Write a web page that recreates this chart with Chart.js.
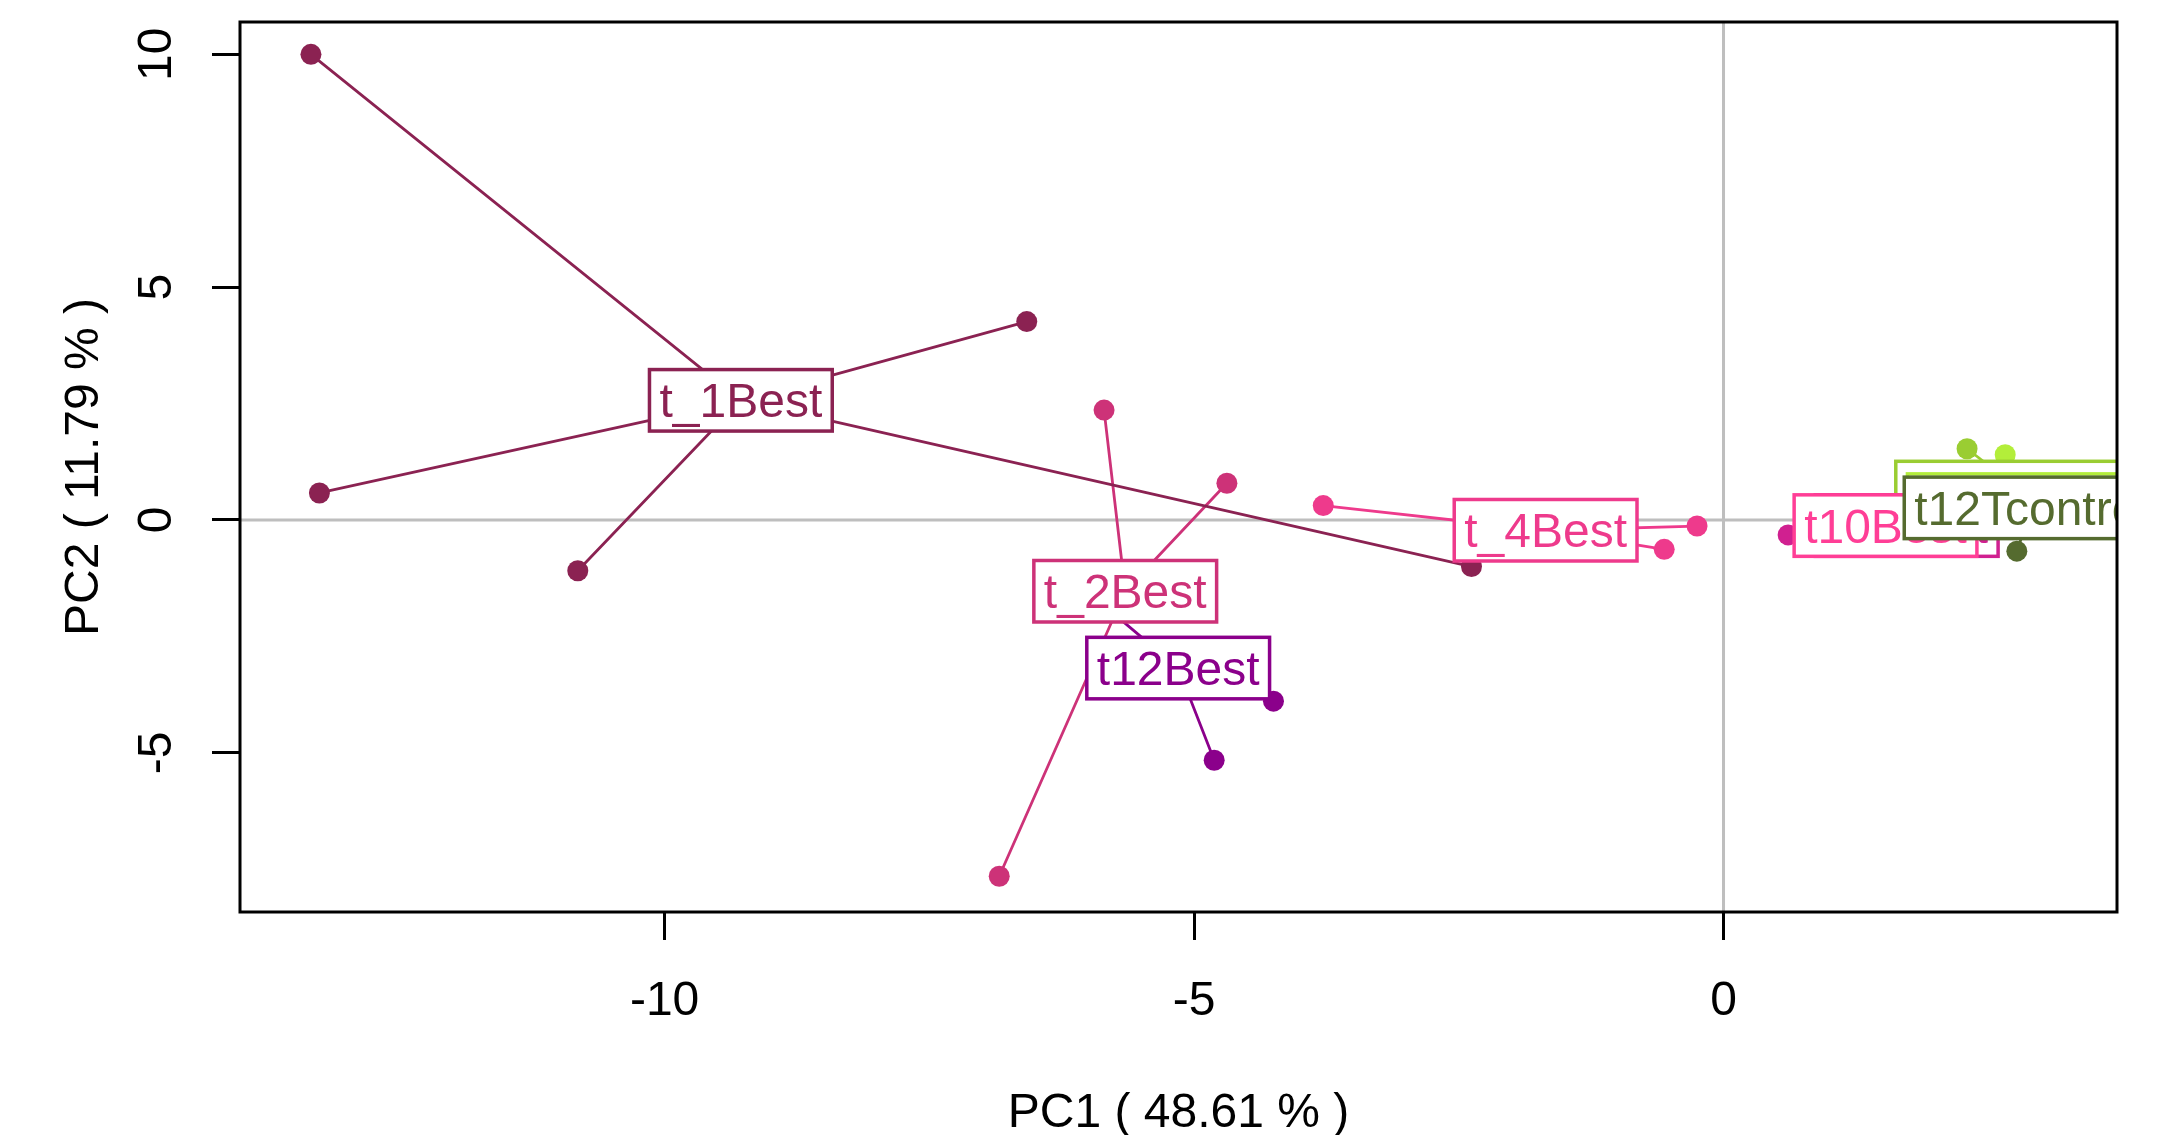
<!DOCTYPE html>
<html>
<head>
<meta charset="utf-8">
<title>PCA - PC1 / PC2</title>
<script src="https://cdn.jsdelivr.net/npm/chart.js@4.4.1/dist/chart.umd.min.js"></script>
<style>
  html, body { margin: 0; padding: 0; background: #fff; overflow: hidden; }
  canvas { display: block; }
</style>
</head>
<body>
<canvas id="pcaPlot" width="2166" height="1135"></canvas>
<script>
// groups, in the order the labels are stacked (last one ends up on top)
const groupNames = ['t_1Best', 't_2Best', 't_4Best', 't_2Tcontrol', 't_4Tcontrol', 't_8Best', 't10Best', 't12Best', 't12Tcontrol'];
const groupColors = ['#8B2252', '#CD3278', '#EE3A8C', '#9ACD32', '#B3EE3A', '#D02090', '#FF3E96', '#8B008B', '#556B2F'];

// group centroids (where the label boxes sit)
const centroidX = [-9.28, -5.65, -1.68, 2.83, 2.94, 1.73, 1.53, -5.15, 2.91];
const centroidY = [2.57, -1.53, -0.22, 0.60, 0.33, -0.12, -0.12, -3.18, 0.26];

// samples of each group
const pointX = [
  [-13.34, -6.58, -13.26, -10.82, -2.38],
  [-5.85, -4.69, -6.84],
  [-3.78, -0.25, -0.56],
  [2.30],
  [2.66],
  [0.61],
  [],
  [-4.25, -4.81, -5.91],
  [2.77]
];
const pointY = [
  [10.0, 4.26, 0.58, -1.09, -1.00],
  [2.36, 0.79, -7.65],
  [0.31, -0.13, -0.63],
  [1.53],
  [1.40],
  [-0.32],
  [],
  [-3.89, -5.16, -1.72],
  [-0.67]
];

const xTicks = [-10, -5, 0];
const yTicks = [-5, 0, 5, 10];
const xLimits = [-14.01, 3.716];
const yLimits = [-8.418, 10.694];
const xTitle = 'PC1 ( 48.61 % )';
const yTitle = 'PC2 ( 11.79 % )';

const FONT = "'Liberation Sans', Arial, sans-serif";
const FONT_SIZE = 48;

window.onload = init;

function init(){
    const datasets = [];

    // star segments: centroid -> each sample
    groupNames.forEach((name, g) => {
        if (!pointX[g].length) return;
        const star = [];
        pointX[g].forEach((px, k) => {
            star.push({x: centroidX[g], y: centroidY[g]});
            star.push({x: px, y: pointY[g][k]});
        });
        datasets.push({
            label: name + ' star',
            data: star,
            showLine: true,
            borderColor: groupColors[g],
            borderWidth: 2.8,
            borderJoinStyle: 'round',
            pointRadius: 0,
            pointHoverRadius: 0,
            order: 2
        });
    });

    // sample points on top of the segments
    groupNames.forEach((name, g) => {
        if (!pointX[g].length) return;
        datasets.push({
            label: name,
            data: pointX[g].map((px, k) => ({x: px, y: pointY[g][k]})),
            showLine: false,
            pointRadius: 10.5,
            pointHoverRadius: 10.5,
            pointBorderWidth: 0,
            backgroundColor: groupColors[g],
            borderColor: groupColors[g],
            order: 1
        });
    });

    const ctx = document.getElementById('pcaPlot');
    new Chart(ctx, {
        type: 'scatter',
        data: { datasets: datasets },
        options: {
            responsive: false,
            devicePixelRatio: 1,
            animation: false,
            events: [],
            layout: { padding: { top: 22, right: 49, bottom: 0, left: 0 } },
            plugins: { legend: { display: false }, tooltip: { enabled: false } },
            scales: {
                x: {
                    type: 'linear',
                    min: xLimits[0],
                    max: xLimits[1],
                    afterBuildTicks: s => { s.ticks = xTicks.map(v => ({value: v})); },
                    afterFit: s => { s.height = 223; s.paddingLeft = 0; s.paddingRight = 0; },
                    ticks: {
                        color: '#000',
                        font: { family: FONT, size: FONT_SIZE },
                        padding: 33,
                        maxRotation: 0,
                        minRotation: 0
                    },
                    grid: { drawOnChartArea: false, drawTicks: true, tickLength: 28, color: '#000', lineWidth: 3 },
                    border: { display: false },
                    title: {
                        display: true,
                        text: xTitle,
                        color: '#000',
                        font: { family: FONT, size: FONT_SIZE, lineHeight: 0.9 },
                        padding: { top: 0, bottom: 0 }
                    }
                },
                y: {
                    type: 'linear',
                    min: yLimits[0],
                    max: yLimits[1],
                    afterBuildTicks: s => { s.ticks = yTicks.map(v => ({value: v})); },
                    afterFit: s => { s.width = 240; s.paddingTop = 0; s.paddingBottom = 0; },
                    ticks: {
                        color: '#000',
                        font: { family: FONT, size: FONT_SIZE },
                        padding: 27.5,
                        minRotation: 90,
                        maxRotation: 90,
                        crossAlign: 'center'
                    },
                    grid: { drawOnChartArea: false, drawTicks: true, tickLength: 28, color: '#000', lineWidth: 3 },
                    border: { display: false },
                    title: {
                        display: true,
                        text: yTitle,
                        color: '#000',
                        font: { family: FONT, size: FONT_SIZE, lineHeight: 0.9 },
                        padding: { top: 63, bottom: 0 }
                    }
                }
            }
        },
        plugins: [classOverlay]
    });
}

// zero lines under the data, label boxes and frame over it
const classOverlay = {
    id: 'classOverlay',
    beforeDatasetsDraw(chart){
        const {ctx, chartArea: a, scales: {x, y}} = chart;
        const x0 = x.getPixelForValue(0);
        const y0 = y.getPixelForValue(0);
        ctx.save();
        ctx.strokeStyle = '#BEBEBE';
        ctx.lineWidth = 3;
        ctx.beginPath();
        ctx.moveTo(x0, a.top); ctx.lineTo(x0, a.bottom);
        ctx.moveTo(a.left, y0); ctx.lineTo(a.right, y0);
        ctx.stroke();
        ctx.restore();
    },
    afterDatasetsDraw(chart){
        const {ctx, chartArea: a, scales: {x, y}} = chart;
        ctx.save();
        ctx.beginPath();
        ctx.rect(a.left, a.top, a.right - a.left, a.bottom - a.top);
        ctx.clip();
        ctx.font = FONT_SIZE + 'px ' + FONT;
        ctx.textAlign = 'center';
        ctx.textBaseline = 'alphabetic';
        groupNames.forEach((name, g) => {
            const cx = x.getPixelForValue(centroidX[g]);
            const cy = y.getPixelForValue(centroidY[g]);
            const w = ctx.measureText(name).width + 20;
            const h = 61.5;
            ctx.fillStyle = '#fff';
            ctx.fillRect(cx - w / 2, cy - h / 2, w, h);
            ctx.lineWidth = 3.5;
            ctx.strokeStyle = groupColors[g];
            ctx.strokeRect(cx - w / 2, cy - h / 2, w, h);
            ctx.fillStyle = groupColors[g];
            ctx.fillText(name, cx, cy + 17);
        });
        ctx.restore();

        ctx.save();
        ctx.strokeStyle = '#000';
        ctx.lineWidth = 3;
        ctx.strokeRect(a.left, a.top, a.right - a.left, a.bottom - a.top);
        ctx.restore();
    }
};
</script>
</body>
</html>
